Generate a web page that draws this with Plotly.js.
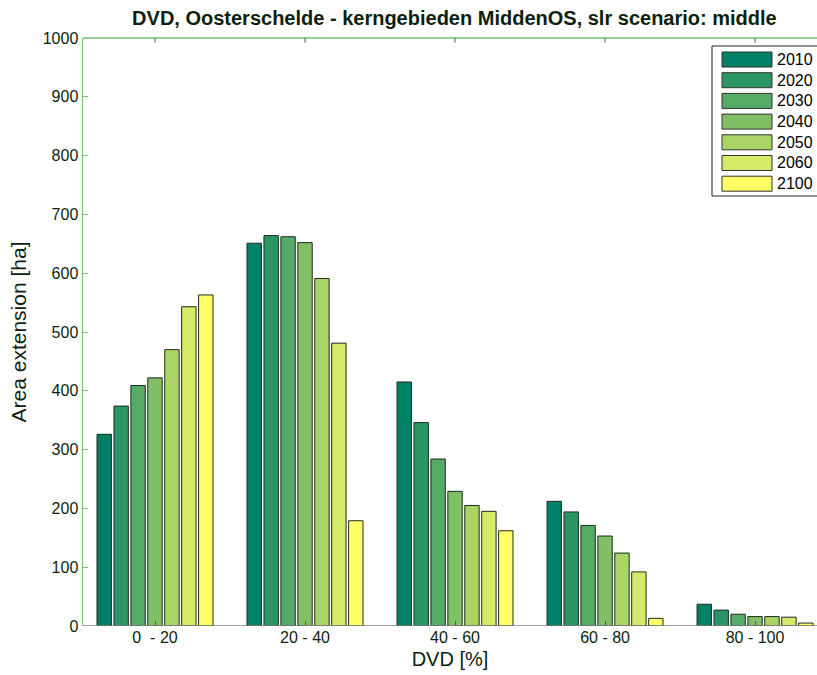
<!DOCTYPE html>
<html><head><meta charset="utf-8">
<script src="https://cdn.plot.ly/plotly-3.0.1.min.js"></script>
<style>html,body{margin:0;padding:0;background:#fff;overflow:hidden;}#chart{width:817px;height:675px;}</style>
</head><body><div id="chart"></div>
<script>
var categories = ["0  - 20", "20 - 40", "40 - 60", "60 - 80", "80 - 100"];
var years = ["2010", "2020", "2030", "2040", "2050", "2060", "2100"];
var v2010 = [326, 651, 415, 212, 37];
var v2020 = [374, 664, 346, 194, 27];
var v2030 = [409, 662, 284, 171, 20];
var v2040 = [422, 652, 229, 153, 16];
var v2050 = [470, 591, 205, 124, 16];
var v2060 = [543, 481, 195, 92, 15];
var v2100 = [563, 179, 162, 13, 5];
var seriesValues = [v2010, v2020, v2030, v2040, v2050, v2060, v2100];
var colors = ["#008066", "#2b9566", "#55aa66", "#80bf66", "#aad566", "#d5ea66", "#ffff66"];

var font = "Liberation Sans, Arial, sans-serif";
var txt = "#0d1f0d";
var green = "#72c472";

var traces = years.map(function(y, i){
  return {type:"bar", name:y, x:categories, y:seriesValues[i],
    marker:{color:colors[i], line:{color:"#1e2a1e", width:1}}, showlegend:false, hoverinfo:"x+y+name"};
});

var shapes = [];
var annotations = [];
var L = 83, T = 38, W = 817-83, H = 626-38;
function px(x){return (x-L)/W;}
function py(y){return 1-(y-T)/H;}
// top frame line (green)
shapes.push({type:"line", xref:"paper", yref:"paper", x0:0, x1:1, y0:1, y1:1, line:{color:green, width:1.5}, layer:"above"});
// top ticks at categories
categories.forEach(function(c){
  shapes.push({type:"line", xref:"x", yref:"y", x0:c, x1:c, y0:1000, y1:992, line:{color:"#3a6a3a", width:1}, layer:"above"});
});
// legend box
shapes.push({type:"rect", xref:"paper", yref:"paper", x0:px(712), x1:px(830), y0:py(196), y1:py(46),
  line:{color:"#222", width:1}, fillcolor:"#fff", layer:"above"});
years.forEach(function(y,i){
  var top = 52 + i*20.7;
  shapes.push({type:"rect", xref:"paper", yref:"paper", x0:px(722), x1:px(772), y0:py(top+15), y1:py(top),
    line:{color:"#333", width:1}, fillcolor:colors[i], layer:"above"});
  annotations.push({xref:"paper", yref:"paper", x:px(775), y:py(top+7.5), text:y, showarrow:false,
    xanchor:"left", yanchor:"middle", font:{family:font, size:16, color:"#000"}});
});
// bottom axis line (grey)
shapes.push({type:"line", xref:"paper", yref:"y", x0:0, x1:1, y0:0, y1:0, line:{color:"#808080", width:1.5}, layer:"above"});

var layout = {
  width:817, height:675,
  margin:{l:83, r:0, t:38, b:49},
  paper_bgcolor:"#fff", plot_bgcolor:"#fff",
  title:{text:"<b>DVD, Oosterschelde - kerngebieden MiddenOS, slr scenario: middle</b>", xref:"paper", x:0.506, xanchor:"center", y:0.973, yanchor:"middle",
    font:{family:font, size:20, color:txt}},
  barmode:"group", bargap:0.21, bargroupgap:0.15,
  xaxis:{type:"category", range:[-0.48, 4.413], showline:false,
    ticks:"inside", ticklen:5, tickcolor:"#3a6a3a", showgrid:false, zeroline:false,
    tickfont:{family:font, size:16, color:txt},
    title:{text:"DVD [%]", font:{family:font, size:20, color:txt}, standoff:6}},
  yaxis:{range:[0,1000], dtick:100, showline:true, linecolor:green, linewidth:1.5, mirror:false,
    ticks:"inside", ticklen:5, tickcolor:green, showgrid:false, zeroline:false,
    tickfont:{family:font, size:16, color:txt},
    title:{text:"Area extension [ha]", font:{family:font, size:21, color:txt}, standoff:10}},
  shapes:shapes, annotations:annotations,
  showlegend:false
};
Plotly.newPlot("chart", traces, layout, {staticPlot:true, displayModeBar:false});
</script></body></html>
